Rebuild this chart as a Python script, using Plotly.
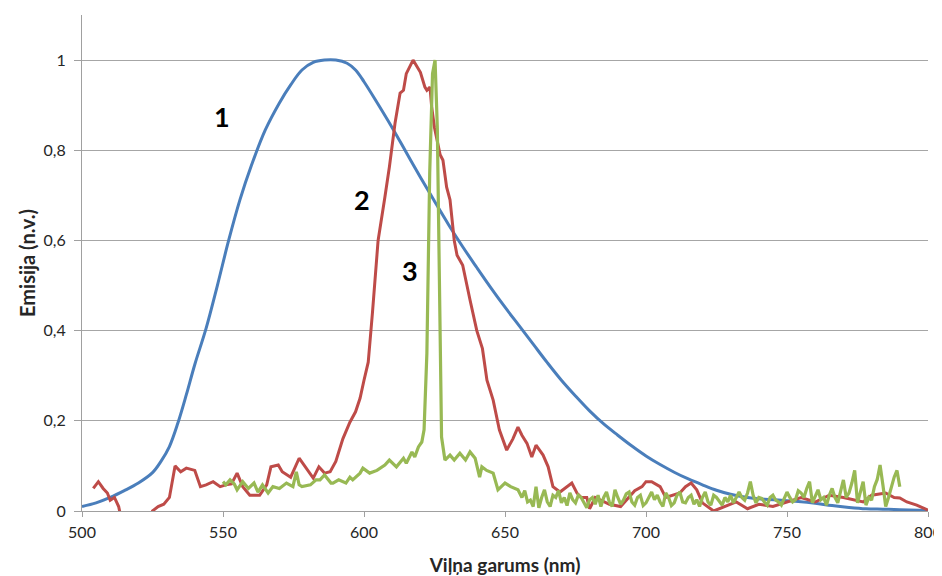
import plotly.graph_objects as go

# ---- data ----
blue_nm = [500, 505, 510, 515, 520, 525, 528, 531, 534, 537, 540, 544, 548, 552, 556, 560,
           565, 570, 574, 578, 582, 586, 590, 594, 597, 600, 605, 610, 615, 620, 625, 630,
           635, 640, 645, 650, 655, 660, 665, 670, 675, 680, 685, 690, 695, 700, 705, 710,
           715, 720, 725, 730, 736, 742, 748, 754, 760, 766, 772, 778, 784, 790, 800]
blue_em = [0.010, 0.018, 0.030, 0.045, 0.062, 0.085, 0.110, 0.143, 0.195, 0.258, 0.325, 0.405,
           0.500, 0.600, 0.690, 0.765, 0.845, 0.905, 0.945, 0.978, 0.995, 1.000, 1.000, 0.993,
           0.978, 0.952, 0.902, 0.850, 0.795, 0.740, 0.687, 0.635, 0.586, 0.540, 0.495, 0.452,
           0.411, 0.370, 0.329, 0.290, 0.255, 0.222, 0.193, 0.168, 0.144, 0.122, 0.103, 0.086,
           0.071, 0.058, 0.046, 0.037, 0.030, 0.026, 0.024, 0.021, 0.017, 0.012, 0.008, 0.005,
           0.004, 0.003, 0.001]

red_nm = [504, 505.8, 507.5, 509, 510, 511.5, 513, 514, 524, 525, 527, 529, 531, 533, 535,
          537, 540, 542, 544, 546.5, 549, 551, 553, 555, 557, 559.5, 563, 565.5, 567, 569.6,
          571, 574, 577, 580, 582, 584, 586, 588, 590, 592.5, 595, 597, 598.6, 600, 601.5,
          603, 604, 605, 607.4, 609, 611, 612.8, 614, 615, 617.4, 618.8, 620, 621.6, 622.3,
          623.4, 624, 625, 627, 628, 629.3, 630.5, 632, 633, 635, 637.6, 640, 642, 643.6,
          645.8, 648, 650.6, 652.8, 654.6, 656, 657.8, 659.5, 661, 663.5, 665.3, 667, 669.5,
          672, 673.7, 675.5, 677, 679, 680, 682, 684, 687, 691, 694, 696, 698.6, 700, 702,
          705, 707, 710, 712, 714, 716, 718, 720, 724, 728, 732, 736, 740, 745, 750, 755,
          760, 765, 770, 775, 777, 780, 785, 788, 790, 792.5, 796, 800]
red_em = [0.050, 0.065, 0.050, 0.040, 0.024, 0.030, 0.010, -0.020, -0.020, 0.000, 0.010, 0.015,
          0.030, 0.100, 0.087, 0.095, 0.090, 0.054, 0.058, 0.065, 0.054, 0.058, 0.060, 0.084,
          0.054, 0.035, 0.035, 0.058, 0.098, 0.102, 0.087, 0.075, 0.117, 0.090, 0.073, 0.098,
          0.084, 0.087, 0.110, 0.160, 0.197, 0.220, 0.250, 0.290, 0.330, 0.440, 0.530, 0.600,
          0.696, 0.763, 0.860, 0.927, 0.933, 0.970, 1.000, 0.985, 0.973, 0.940, 0.933, 0.940,
          0.896, 0.850, 0.790, 0.778, 0.718, 0.690, 0.600, 0.567, 0.545, 0.468, 0.400, 0.360,
          0.290, 0.246, 0.180, 0.135, 0.160, 0.186, 0.168, 0.150, 0.120, 0.146, 0.124, 0.098,
          0.054, 0.042, 0.054, 0.062, 0.040, 0.030, 0.030, 0.005, 0.030, 0.024, 0.015, 0.010,
          0.030, 0.045, 0.054, 0.065, 0.065, 0.054, 0.030, 0.035, 0.040, 0.054, 0.062, 0.047,
          0.018, 0.000, 0.010, 0.020, 0.005, 0.015, 0.010, 0.020, 0.030, 0.020, 0.035, 0.030,
          0.024, 0.020, 0.035, 0.040, 0.030, 0.029, 0.020, 0.013, 0.002]

green_nm = [550, 551, 552.5, 554, 555, 557, 559, 561, 562.4, 564, 566, 567.7, 570, 572.5,
            574.8, 576, 577, 578, 581, 583, 584.4, 586, 588.3, 589, 591, 593.6, 595, 596,
            598.6, 599.6, 602, 604.6, 607.4, 609, 611.5, 614, 615, 617, 618, 619.3, 620.5,
            621.3, 622.3, 623.3, 624.3, 625.2, 626, 626.8, 627.5, 628.7, 630.5, 632, 634, 636,
            637.6, 639.4, 641, 641.8, 643.5, 645.8, 647.5, 650, 652, 654.6,
            656, 657, 658, 659, 660, 661, 662, 663, 664, 665, 666, 667, 668, 669, 670, 671,
            672, 673, 674, 675, 676, 677, 678, 679, 680, 681, 682, 683, 684, 685, 686, 687,
            688, 689, 690, 691, 692, 693, 694, 695, 696, 697, 698, 699, 700, 701, 702, 703,
            704, 705, 706, 707, 708, 709, 710, 711, 712, 713, 714, 715, 716, 717, 718, 719,
            720, 721, 722, 723, 724, 725, 726, 727, 728, 729, 730, 731, 732, 733, 734, 735,
            736, 737, 738, 739, 740, 741, 742, 743, 744, 745, 746, 747, 748, 749, 750, 751,
            752, 753, 754, 755, 756, 757, 758, 759, 760, 761, 762, 763, 764, 765, 766, 767,
            768, 769, 770, 771, 772, 773, 774, 775, 776, 777, 778, 779, 780, 781, 782, 783,
            784, 785, 786, 787, 788, 789, 790]
green_em = [0.065, 0.058, 0.069, 0.060, 0.047, 0.065, 0.050, 0.062, 0.042, 0.058, 0.040, 0.054,
            0.050, 0.062, 0.054, 0.087, 0.058, 0.054, 0.058, 0.069, 0.069, 0.080, 0.062, 0.062,
            0.069, 0.062, 0.075, 0.069, 0.084, 0.095, 0.084, 0.090, 0.102, 0.113, 0.098, 0.117,
            0.106, 0.131, 0.120, 0.142, 0.153, 0.180, 0.350, 0.750, 0.970, 1.000, 0.850, 0.500,
            0.164, 0.113, 0.124, 0.113, 0.128, 0.113, 0.131, 0.117, 0.075, 0.098, 0.090, 0.084,
            0.047, 0.062, 0.054, 0.047,
            0.030, 0.045, 0.020, 0.024, 0.010, 0.054, 0.007, 0.030, 0.047, 0.020, 0.010, 0.035,
            0.030, 0.045, 0.018, 0.030, 0.012, 0.040, 0.025, 0.018, 0.035, 0.030, 0.020, 0.007,
            0.025, 0.030, 0.015, 0.035, 0.010, 0.030, 0.042, 0.020, 0.010, 0.047, 0.030, 0.015,
            0.024, 0.038, 0.042, 0.020, 0.013, 0.030, 0.035, 0.012, 0.018, 0.030, 0.042, 0.025,
            0.035, 0.020, 0.010, 0.040, 0.030, 0.012, 0.018, 0.035, 0.042, 0.020, 0.018, 0.030,
            0.035, 0.015, 0.025, 0.010, 0.030, 0.042, 0.020, 0.013, 0.035, 0.030, 0.020, 0.013,
            0.030, 0.020, 0.035, 0.018, 0.030, 0.042, 0.030, 0.024, 0.040, 0.065, 0.035, 0.018,
            0.030, 0.028, 0.020, 0.013, 0.030, 0.035, 0.024, 0.020, 0.013, 0.030, 0.042, 0.030,
            0.020, 0.025, 0.045, 0.040, 0.030, 0.050, 0.065, 0.018, 0.035, 0.047, 0.025, 0.030,
            0.013, 0.035, 0.050, 0.030, 0.018, 0.045, 0.069, 0.030, 0.040, 0.062, 0.090, 0.018,
            0.040, 0.065, 0.013, 0.030, 0.024, 0.054, 0.070, 0.102, 0.058, 0.010, 0.030, 0.054,
            0.075, 0.090, 0.054]

curve_labels = ["1", "2", "3"]
label_nm = [549.5, 599.3, 616.3]
label_em = [0.876, 0.69, 0.534]

y_ticks = [0, 0.2, 0.4, 0.6, 0.8, 1]
x_ticks = [500, 550, 600, 650, 700, 750, 800]

FONT = "Lato, 'Open Sans', 'Liberation Sans', sans-serif"

fig = go.Figure()
fig.add_trace(go.Scatter(x=blue_nm, y=blue_em, mode="lines",
                         line=dict(color="#4a7ebb", width=3, shape="spline", smoothing=1.0),
                         showlegend=False))
fig.add_trace(go.Scatter(x=red_nm, y=red_em, mode="lines",
                         line=dict(color="#be4b48", width=3), showlegend=False))
fig.add_trace(go.Scatter(x=green_nm, y=green_em, mode="lines",
                         line=dict(color="#98b954", width=3.2), showlegend=False))

for t, xx, yy in zip(curve_labels, label_nm, label_em):
    fig.add_annotation(x=xx, y=yy, text="<b>%s</b>" % t, showarrow=False,
                       font=dict(family=FONT, size=27, color="black"))

# the page adds an 8 px body margin, so the figure is 8 px smaller and margins offset
fig.update_layout(
    width=934, height=568,
    margin=dict(l=74, r=14, t=7, b=65),
    paper_bgcolor="white", plot_bgcolor="white",
    separators=", ",
    font=dict(family=FONT, size=16, color="#262626"),
    xaxis=dict(range=[500, 800], tickvals=x_ticks, showgrid=False, zeroline=False,
               showline=True, linecolor="#a0a0a0", linewidth=1, automargin=False,
               ticks="outside", ticklen=5, tickcolor="#a0a0a0", ticklabelstandoff=2,
               title=dict(text="<b>Viļņa garums (nm)</b>", font=dict(size=19), standoff=24)),
    yaxis=dict(range=[0, 1.1], tickvals=y_ticks, showgrid=True, gridcolor="#a6a6a6", gridwidth=1,
               zeroline=False, showline=True, linecolor="#a0a0a0", linewidth=1, automargin=False,
               ticks="outside", ticklen=7, tickcolor="#a0a0a0", ticklabelstandoff=5,
               title=dict(text="<b>Emisija (n.v.)</b>", font=dict(size=20), standoff=2)),
)

fig.write_html("out.html")
